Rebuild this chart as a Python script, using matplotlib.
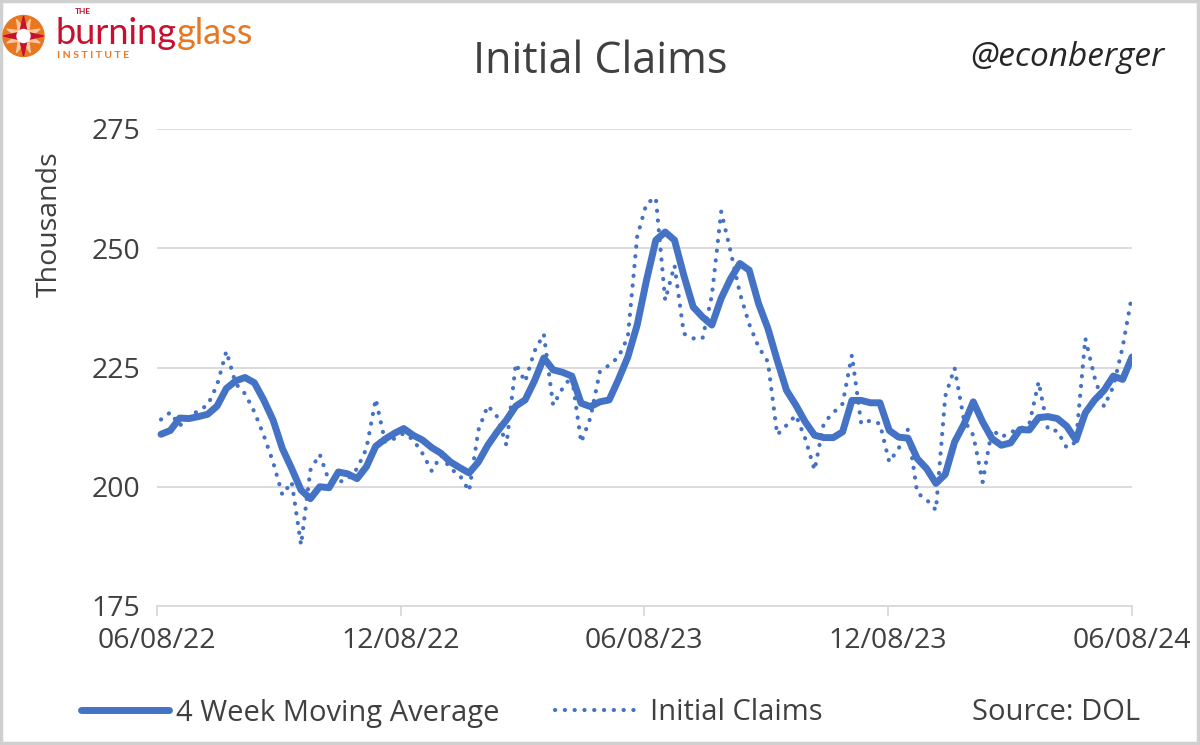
import matplotlib
matplotlib.use("Agg")
import matplotlib.pyplot as plt
from matplotlib.lines import Line2D
from matplotlib.patches import Circle, Polygon, Rectangle
import numpy as np
import pandas as pd

FONT = ["Open Sans", "DejaVu Sans"]
BLUE = "#4472C4"
TEXT = "#404040"
GRID = "#D9D9D9"

# weekly data, week ending Saturday, thousands
WEEK_START = "2022-06-11"

AVG_4WK = [
    211.0, 211.8, 214.4, 214.3, 214.7, 215.2, 216.9, 220.6, 222.2, 222.9,
    221.8, 218.2, 214.0, 208.0, 203.8, 199.3, 197.5, 200.0, 199.8, 203.1,
    202.7, 201.7, 204.2, 208.5, 210.0, 211.2, 212.2, 210.8, 209.8, 208.2,
    207.0, 205.2, 204.0, 202.9, 205.2, 208.7, 211.5, 214.0, 216.9, 218.2,
    222.2, 227.0, 224.5, 224.0, 223.2, 217.5, 216.8, 217.8, 218.2, 222.5,
    227.2, 233.9, 243.3, 251.7, 253.4, 251.7, 244.3, 237.7, 235.6, 233.9,
    239.5, 243.6, 246.8, 245.4, 238.4, 233.2, 226.5, 220.2, 217.1, 213.6,
    210.8, 210.3, 210.3, 211.5, 218.1, 218.1, 217.6, 217.6, 211.8, 210.4,
    210.2, 205.9, 203.8, 200.7, 202.6, 209.4, 213.1, 217.8, 213.6, 210.1,
    208.7, 209.2, 212.0, 211.9, 214.5, 214.7, 214.3, 212.7, 209.8, 215.5,
    218.2, 220.2, 223.2, 222.5, 227.2,
]

CLAIMS = [
    214.1, 215.6, 212.8, 214.5, 216.0, 217.1, 221.3, 228.4, 221.6, 219.5,
    215.7, 210.8, 205.2, 198.3, 201.0, 187.8, 203.5, 206.8, 201.2, 201.0,
    201.5, 203.8, 208.0, 218.4, 209.4, 210.1, 211.2, 209.9, 207.0, 203.3,
    206.6, 203.8, 202.4, 199.1, 211.9, 217.0, 214.7, 208.7, 225.8, 222.0,
    228.4, 232.0, 217.1, 220.6, 223.2, 209.3, 214.5, 224.1, 225.5, 227.2,
    231.4, 252.4, 259.4, 260.6, 239.1, 246.4, 232.1, 231.1, 231.1, 240.1,
    257.7, 249.4, 240.6, 234.1, 229.3, 226.2, 210.9, 212.9, 215.0, 210.1,
    203.5, 213.4, 215.5, 217.4, 227.6, 213.2, 213.9, 213.2, 205.2, 208.0,
    212.0, 198.7, 197.3, 195.1, 219.0, 224.9, 214.0, 210.8, 201.0, 212.0,
    210.4, 211.4, 212.2, 213.1, 222.0, 212.0, 211.7, 208.2, 209.4, 231.1,
    222.9, 216.8, 221.0, 229.3, 240.2,
]

X_TICKS = ["2022-06-08", "2022-12-08", "2023-06-08", "2023-12-08", "2024-06-08"]
X_TICK_LABELS = ["06/08/22", "12/08/22", "06/08/23", "12/08/23", "06/08/24"]
Y_TICKS = [175, 200, 225, 250, 275]

plt.rcParams["font.family"] = FONT

weeks = pd.date_range(WEEK_START, periods=len(CLAIMS), freq="7D")
DOTS = (0, (0.05, 2.3))

fig = plt.figure(figsize=(12, 7.45), dpi=100)
ax = fig.add_axes([157 / 1200, 1 - 606 / 745, 975 / 1200, 477 / 745])

ax.plot(weeks, CLAIMS, color=BLUE, lw=3.0, linestyle=DOTS,
        dash_capstyle="round", zorder=3)
ax.plot(weeks, AVG_4WK, color=BLUE, lw=5, solid_joinstyle="round",
        solid_capstyle="round", zorder=4)

ax.set_xlim(pd.Timestamp(X_TICKS[0]), pd.Timestamp(X_TICKS[-1]))
ax.set_ylim(Y_TICKS[0], Y_TICKS[-1])
ax.set_xticks(pd.to_datetime(X_TICKS))
ax.set_xticklabels(X_TICK_LABELS)
ax.set_yticks(Y_TICKS)
ax.tick_params(axis="x", length=7, width=1.3, color=GRID, pad=8,
               labelsize=20.5, labelcolor=TEXT)
ax.tick_params(axis="y", length=0, pad=12, labelsize=20.5, labelcolor=TEXT)
ax.yaxis.grid(True, color=GRID, lw=1.3)
ax.set_axisbelow(True)
for side in ("top", "right", "left"):
    ax.spines[side].set_visible(False)
ax.spines["bottom"].set_color(GRID)
ax.spines["bottom"].set_linewidth(1.3)

fig.text(50 / 1200, 1 - 224 / 745, "Thousands", rotation=90, ha="center",
         va="center", fontsize=20.5, color=TEXT)
fig.text(600 / 1200, 1 - 62 / 745, "Initial Claims", ha="center", va="center",
         fontsize=31, color=TEXT)
fig.text(1067 / 1200, 1 - 58 / 745, "@econberger", ha="center", va="center",
         fontsize=24, style="italic", color="#262626")

handles = [
    Line2D([], [], color=BLUE, lw=5, solid_capstyle="round"),
    Line2D([], [], color=BLUE, lw=3.0, linestyle=DOTS, dash_capstyle="round"),
]
leg = fig.legend(handles, ["4 Week Moving Average", "Initial Claims"],
                 loc="center left", bbox_to_anchor=(81 / 1200, 1 - 713 / 745),
                 frameon=False, ncol=2, fontsize=21, handlelength=3.0,
                 handletextpad=0.25, columnspacing=1.9, borderpad=0,
                 borderaxespad=0)
for t in leg.get_texts():
    t.set_color(TEXT)
fig.text(1140 / 1200, 1 - 713 / 745, "Source: DOL", ha="right", va="center",
         fontsize=21, color=TEXT)

# decorations in pixel coords: frame and logo
deco = fig.add_axes([0, 0, 1, 1], zorder=-1)
deco.set_xlim(0, 1200)
deco.set_ylim(745, 0)
deco.axis("off")
deco.add_patch(Rectangle((1, 1), 1197, 742, fill=False, ec="#D0D0D0", lw=2.5))

cx, cy, r = 23.5, 36, 20.5
deco.add_patch(Circle((cx, cy), r, color="#E87722"))
for k in range(8):
    a = np.pi / 8 + k * np.pi / 4
    deco.add_patch(Polygon([(cx + 7 * np.cos(a - 0.45), cy + 7 * np.sin(a - 0.45)),
                            (cx + 7 * np.cos(a + 0.45), cy + 7 * np.sin(a + 0.45)),
                            (cx + 18 * np.cos(a), cy + 18 * np.sin(a))],
                           color="#F9C89B"))
for k in range(4):
    a = k * np.pi / 2
    deco.add_patch(Polygon([(cx + 6 * np.cos(a - 0.6), cy + 6 * np.sin(a - 0.6)),
                            (cx + 6 * np.cos(a + 0.6), cy + 6 * np.sin(a + 0.6)),
                            (cx + 20 * np.cos(a), cy + 20 * np.sin(a))],
                           color="#C8102E"))
deco.add_patch(Circle((cx, cy), 6.5, color="white"))

deco.text(56, 44, "burning", fontsize=26, color="#C8102E", family=["Lato"],
          va="baseline", ha="left")
deco.text(177, 44, "glass", fontsize=26, color="#E87722", family=["Lato"],
          va="baseline", ha="left")
deco.text(75, 14, "THE", fontsize=6, color="#C8102E", family=["Lato"],
          weight="bold", va="baseline", ha="left")
deco.text(57, 58, "I N S T I T U T E", fontsize=7.5, color="#E87722",
          family=["Lato"], weight="bold", va="baseline", ha="left")

fig.savefig("out.png", dpi=100)
